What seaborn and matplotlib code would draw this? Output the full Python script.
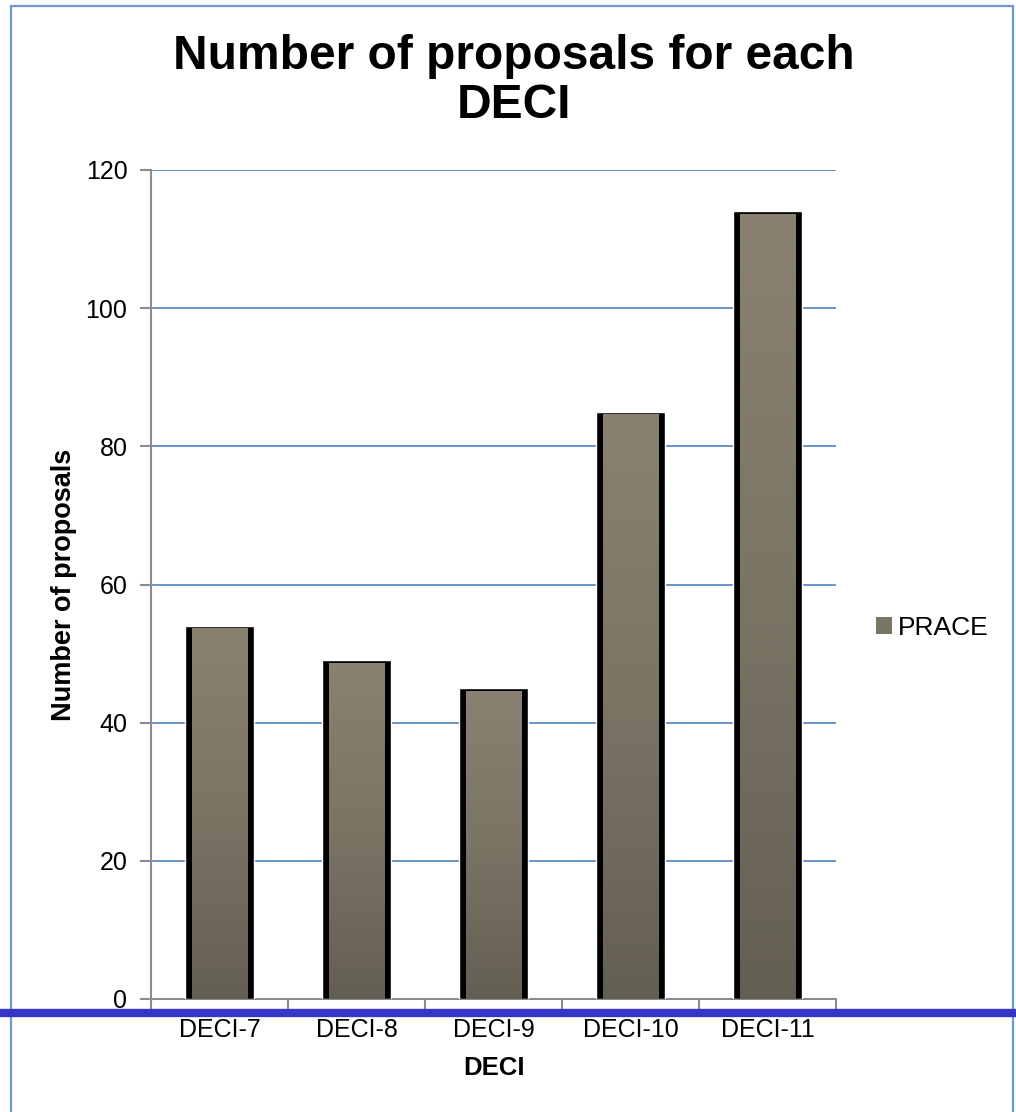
import numpy as np
import pandas as pd
import matplotlib
matplotlib.use('Agg')
import matplotlib.pyplot as plt
from matplotlib.patches import Patch, Rectangle
from matplotlib.lines import Line2D
from matplotlib.colors import LinearSegmentedColormap
import seaborn as sns

# data
categories = ['DECI-7', 'DECI-8', 'DECI-9', 'DECI-10', 'DECI-11']
proposals = [54, 49, 45, 85, 114]
series = 'PRACE'

df = pd.DataFrame({'DECI': categories, 'proposals': proposals})

sns.set_style('white')
plt.rcParams['font.family'] = ['Liberation Sans', 'DejaVu Sans']
plt.rcParams['text.color'] = 'black'
plt.rcParams['axes.labelcolor'] = 'black'
plt.rcParams['xtick.labelcolor'] = 'black'
plt.rcParams['ytick.labelcolor'] = 'black'

fig = plt.figure(figsize=(10.16, 11.12), dpi=100)
W, H = 1016, 1112
ax = fig.add_axes([151 / W, 1 - 999 / H, (836 - 151) / W, (999 - 170) / H])

bar_w = 0.51
sns.barplot(data=df, x='DECI', y='proposals', color='black', width=bar_w,
            saturation=1, ax=ax, zorder=3)

# gradient fill inside each black bar
grad = LinearSegmentedColormap.from_list('g', ['#645f53', '#7a7465', '#898272'])
side = 7 / 137.0
top = 3 * 120 / 829.0
for i, v in enumerate(proposals):
    img = np.linspace(0, 1, 256).reshape(-1, 1)
    ax.imshow(img, cmap=grad, origin='lower', aspect='auto', zorder=4,
              extent=[i - bar_w / 2 + side, i + bar_w / 2 - side, 0, v - top])

ax.set_xlim(-0.5, 4.5)
ax.set_ylim(0, 120)
ax.set_yticks(range(0, 121, 20))
ax.yaxis.grid(True, color='#4f81bd', linewidth=1.2, zorder=0)
ax.set_axisbelow(True)

for s in ['top', 'right']:
    ax.spines[s].set_visible(False)
for s in ['left', 'bottom']:
    ax.spines[s].set_color('#8c8c8c')
    ax.spines[s].set_linewidth(1.5)

ax.set_xticks(range(len(categories)))
ax.set_xticklabels(categories)
ax.set_xticks(np.arange(-0.5, 5, 1), minor=True)
ax.tick_params(axis='x', which='major', length=0, pad=14, labelsize=18)
ax.tick_params(axis='x', which='minor', length=8, width=1.5, color='#8c8c8c',
               direction='out', bottom=True)
ax.tick_params(axis='y', length=8, width=1.5, color='#8c8c8c', direction='out',
               left=True, pad=9, labelsize=18)

ax.set_xlabel('DECI', fontsize=18.5, fontweight='bold', labelpad=10)
ax.set_ylabel('Number of proposals', fontsize=19.5, fontweight='bold', labelpad=6)

fig.text(514 / W, 1 - 81 / H, 'Number of proposals for each\nDECI',
         ha='center', va='center', fontsize=34.5, fontweight='bold', linespacing=1.12)

handle = Patch(facecolor='#7b7566', edgecolor='none')
fig.legend([handle], [series], loc='center left',
           bbox_to_anchor=(852 / W, 1 - 628 / H), frameon=False, fontsize=19,
           handlelength=0.6, handleheight=0.6, handletextpad=0.25)

# frame of the original chart area and the line across the page
fig.patches.append(Rectangle((11 / W, -0.05), (1013 - 11) / W, 1 - 6 / H + 0.05,
                             transform=fig.transFigure, fill=False,
                             edgecolor='#6f98cf', linewidth=1.6, zorder=0))
fig.lines.append(Line2D([0, 1], [1 - 1013 / H, 1 - 1013 / H], transform=fig.transFigure,
                        color='#3535c8', linewidth=6, zorder=10))

fig.savefig('out.png', dpi=100)
